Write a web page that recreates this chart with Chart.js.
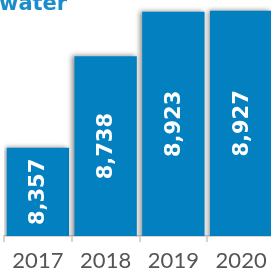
<!DOCTYPE html>
<html>
<head>
<meta charset="utf-8">
<script src="https://cdn.jsdelivr.net/npm/chart.js@4"></script>
<style>
  html, body { margin: 0; padding: 0; background: #fff; overflow: hidden; }
  #wrap { position: relative; width: 271px; height: 271px; overflow: hidden; }
  #title {
    position: absolute; left: -1px; top: -7px;
    font: bold 21px "DejaVu Sans", sans-serif; line-height: 20px;
    color: #1b8dcc; white-space: nowrap;
  }
  canvas { position: absolute; left: 0; top: 0; }
</style>
</head>
<body>
<div id="wrap">
  <canvas id="chart" width="275" height="271"></canvas>
  <div id="title">water</div>
</div>
<script>
var years = ['2017', '2018', '2019', '2020'];
var values = [8357, 8738, 8923, 8927];

var BAR_BLUE = '#0380bf';

function fmt(v) {
    return String(v).replace(/\B(?=(\d{3})+(?!\d))/g, ',');
}

// soft grey shadow behind the bars, then the rotated value labels
var barDecor = {
    id: 'barDecor',
    beforeDatasetsDraw: function (chart) {
        var ctx = chart.ctx;
        ctx.save();
        ctx.shadowColor = 'rgba(0,0,0,0.45)';
        ctx.shadowBlur = 5;
        ctx.shadowOffsetX = -2;
        ctx.shadowOffsetY = -1;
    },
    afterDatasetsDraw: function (chart) {
        var ctx = chart.ctx;
        ctx.restore();
        var meta = chart.getDatasetMeta(0);
        var bottom = chart.chartArea.bottom;
        ctx.save();
        ctx.fillStyle = '#ffffff';
        ctx.font = 'bold 21px "DejaVu Sans", sans-serif';
        ctx.textAlign = 'center';
        ctx.textBaseline = 'middle';
        meta.data.forEach(function (bar, i) {
            var p = bar.getProps(['x', 'y', 'base'], true);
            // base sits at value 0, far below the visible axis
            var cy = (p.y + Math.min(p.base, bottom)) / 2;
            ctx.save();
            ctx.translate(p.x + 1, cy);
            ctx.rotate(-Math.PI / 2);
            ctx.fillText(fmt(values[i]), 0, 0);
            ctx.restore();
        });
        ctx.restore();
    }
};

new Chart(document.getElementById('chart').getContext('2d'), {
    type: 'bar',
    data: {
        labels: years,
        datasets: [{
            data: values,
            backgroundColor: BAR_BLUE,
            borderWidth: 0,
            barPercentage: 0.92,
            categoryPercentage: 1
        }]
    },
    options: {
        responsive: false,
        animation: false,
        layout: { padding: { left: 4, right: 0, top: 0, bottom: 0 } },
        plugins: {
            legend: { display: false },
            tooltip: { enabled: false }
        },
        scales: {
            x: {
                afterFit: function (scale) { scale.height = 35; },
                grid: {
                    drawOnChartArea: false,
                    drawTicks: true,
                    tickLength: 6,
                    color: '#d4d4d4',
                    lineWidth: 2
                },
                border: { display: true, color: '#d4d4d4', width: 2 },
                ticks: {
                    color: '#555555',
                    padding: 6,
                    font: { family: 'Lato', size: 22 }
                }
            },
            y: {
                display: false,
                min: 7990,
                max: 8972
            }
        }
    },
    plugins: [barDecor]
});
</script>
</body>
</html>
